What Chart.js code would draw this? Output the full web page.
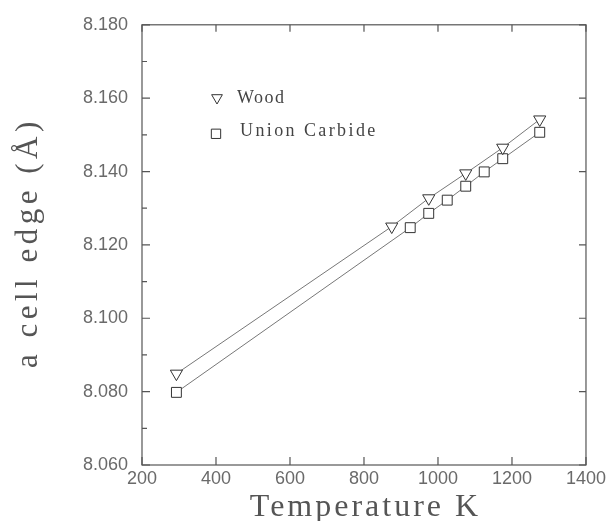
<!DOCTYPE html>
<html>
<head>
<meta charset="utf-8">
<script src="https://cdn.jsdelivr.net/npm/chart.js@4"></script>
<style>
  html, body { margin: 0; padding: 0; background: #fff; }
  #wrap { width: 609px; height: 521px; }
</style>
</head>
<body>
<div id="wrap"><canvas id="c" width="609" height="521"></canvas></div>
<script>
const woodTemps = [293, 875, 975, 1075, 1175, 1275];
const woodCell = [8.0849, 8.1250, 8.1327, 8.1395, 8.1465, 8.1542];
const ucTemps = [293, 925, 975, 1025, 1075, 1125, 1175, 1275];
const ucCell = [8.0798, 8.1247, 8.1286, 8.1322, 8.1360, 8.1399, 8.1435, 8.1507];
const xTicks = [200, 400, 600, 800, 1000, 1200, 1400];
const yTicks = [8.060, 8.080, 8.100, 8.120, 8.140, 8.160, 8.180];
const yMinorTicks = [8.070, 8.090, 8.110, 8.130, 8.150, 8.170];
const seriesNames = ['Wood', 'Union Carbide'];
const xTitle = 'Temperature K';
const yTitle = 'a cell edge (Å)';

const toXY = (xs, ys) => xs.map((x, i) => ({x: x, y: ys[i]}));

const frameColor = '#555';
const markColor = '#333';

function spacedText(ctx, text, x, y, spacing) {
  if ('letterSpacing' in ctx) {
    ctx.letterSpacing = spacing + 'px';
    ctx.fillText(text, x, y);
    ctx.letterSpacing = '0px';
  } else {
    ctx.fillText(text, x, y);
  }
}

const framePlugin = {
  id: 'frame',
  afterDatasetsDraw(chart) {
    const ctx = chart.ctx;
    const a = chart.chartArea;
    const xs = chart.scales.x, ys = chart.scales.y;
    ctx.save();
    ctx.strokeStyle = frameColor;
    ctx.lineWidth = 1.2;
    ctx.strokeRect(a.left, a.top, a.right - a.left, a.bottom - a.top);
    ctx.beginPath();
    xTicks.forEach(v => {
      const px = xs.getPixelForValue(v);
      ctx.moveTo(px, a.bottom); ctx.lineTo(px, a.bottom - 8);
      ctx.moveTo(px, a.top); ctx.lineTo(px, a.top + 7);
    });
    yTicks.forEach(v => {
      const py = ys.getPixelForValue(v);
      ctx.moveTo(a.left, py); ctx.lineTo(a.left + 8, py);
      ctx.moveTo(a.right, py); ctx.lineTo(a.right - 7, py);
    });
    yMinorTicks.forEach(v => {
      const py = ys.getPixelForValue(v);
      ctx.moveTo(a.left, py); ctx.lineTo(a.left + 5, py);
    });
    ctx.stroke();

    // legend
    const lx = a.left + 75, ly1 = a.top + 73, ly2 = a.top + 109;
    ctx.strokeStyle = markColor;
    ctx.lineWidth = 1;
    ctx.fillStyle = '#fff';
    const r = 6.2;
    ctx.beginPath();
    for (let k = 0; k < 3; k++) {
      const ang = Math.PI + k * 2 * Math.PI / 3;
      const px = lx + Math.sin(ang) * r, py = ly1 - Math.cos(ang) * r;
      if (k === 0) ctx.moveTo(px, py); else ctx.lineTo(px, py);
    }
    ctx.closePath();
    ctx.fill(); ctx.stroke();
    const s = Math.SQRT1_2 * 6.6;
    ctx.beginPath();
    ctx.rect(lx - 1 - s, ly2 - s, 2 * s, 2 * s);
    ctx.fill(); ctx.stroke();
    ctx.fillStyle = '#444';
    ctx.font = '18px "Liberation Serif"';
    ctx.textBaseline = 'alphabetic';
    ctx.textAlign = 'left';
    spacedText(ctx, seriesNames[0], 237, a.top + 78, 1.5);
    spacedText(ctx, seriesNames[1], 240, a.top + 111.5, 2.4);

    // axis titles
    ctx.fillStyle = '#555';
    ctx.font = '32px "Liberation Serif"';
    ctx.textAlign = 'left';
    ctx.letterSpacing = '0px';
    let sp = 3;
    ctx.letterSpacing = sp + 'px';
    let w = ctx.measureText(xTitle).width - sp;
    ctx.fillText(xTitle, (a.left + a.right) / 2 - w / 2, 516);
    ctx.letterSpacing = '0px';

    ctx.save();
    ctx.translate(37, (a.top + a.bottom) / 2);
    ctx.rotate(-Math.PI / 2);
    ctx.font = '31px "Liberation Serif"';
    sp = 4.5;
    ctx.letterSpacing = sp + 'px';
    w = ctx.measureText(yTitle).width - sp;
    ctx.fillText(yTitle, -w / 2, 0);
    ctx.letterSpacing = '0px';
    ctx.restore();

    ctx.restore();
  }
};

new Chart(document.getElementById('c'), {
  type: 'scatter',
  data: {
    datasets: [
      {
        label: seriesNames[0],
        data: toXY(woodTemps, woodCell),
        showLine: true,
        borderColor: '#777',
        borderWidth: 1,
        pointStyle: 'triangle',
        rotation: 180,
        pointRadius: 7,
        pointHoverRadius: 7,
        pointBorderColor: markColor,
        pointBackgroundColor: '#fff',
        pointBorderWidth: 1
      },
      {
        label: seriesNames[1],
        data: toXY(ucTemps, ucCell),
        showLine: true,
        borderColor: '#777',
        borderWidth: 1,
        pointStyle: 'rect',
        pointRadius: 7,
        pointHoverRadius: 7,
        pointBorderColor: markColor,
        pointBackgroundColor: '#fff',
        pointBorderWidth: 1
      }
    ]
  },
  options: {
    responsive: false,
    animation: false,
    devicePixelRatio: 1,
    layout: { padding: { top: 22, right: 22, left: 0, bottom: 0 } },
    plugins: { legend: { display: false }, tooltip: { enabled: false } },
    scales: {
      x: {
        type: 'linear',
        min: 200, max: 1400,
        afterBuildTicks: (sc) => { sc.ticks = xTicks.map(v => ({value: v})); },
        afterFit: (sc) => { sc.height = 56; },
        grid: { display: false, drawTicks: false },
        border: { display: false },
        ticks: {
          autoSkip: false, maxRotation: 0, padding: 3,
          color: '#6a6a6a',
          font: { family: '"Liberation Sans"', size: 18 },
          callback: (v) => String(v)
        },
        title: { display: false, text: xTitle }
      },
      y: {
        type: 'linear',
        min: 8.06, max: 8.18,
        afterBuildTicks: (sc) => { sc.ticks = yTicks.map(v => ({value: v})); },
        afterFit: (sc) => { sc.width = 142; },
        grid: { display: false, drawTicks: false },
        border: { display: false },
        ticks: {
          autoSkip: false, padding: 14,
          color: '#6a6a6a',
          font: { family: '"Liberation Sans"', size: 18 },
          callback: (v) => Number(v).toFixed(3)
        },
        title: { display: false, text: yTitle }
      }
    }
  },
  plugins: [framePlugin]
});
</script>
</body>
</html>
